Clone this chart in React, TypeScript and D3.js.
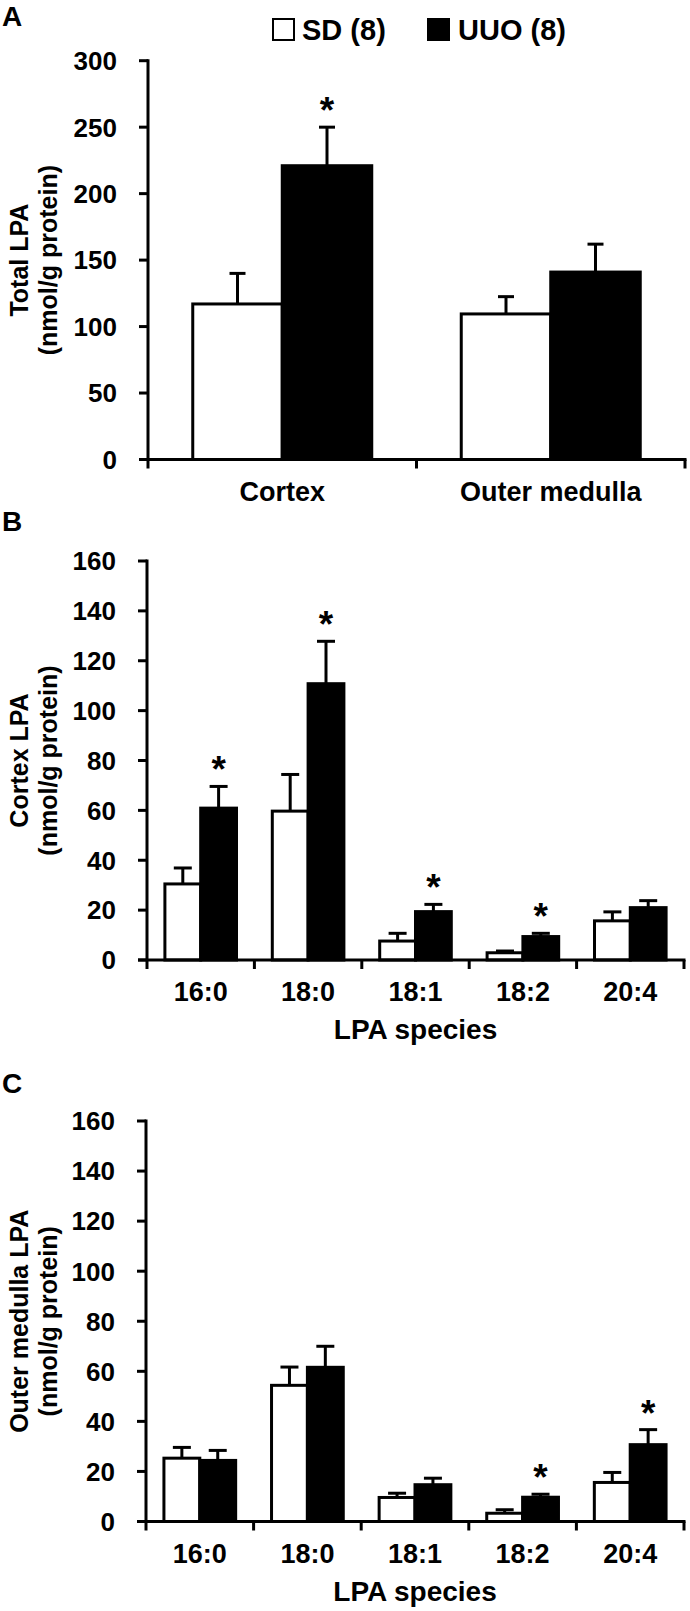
import React from "react";
import * as d3 from "d3";

// ---------- data ----------
const regions = ["Cortex", "Outer medulla"];
const seriesNames = ["SD (8)", "UUO (8)"];
const totalSD = [117, 109.5];
const totalSDErr = [23, 13];
const totalUUO = [221, 141];
const totalUUOErr = [29, 21];
const totalUUOSig = [true, false];
const totalTicks = [0, 50, 100, 150, 200, 250, 300];

const species = ["16:0", "18:0", "18:1", "18:2", "20:4"];
const cortexSD = [30.5, 59.7, 7.6, 2.9, 15.7];
const cortexSDErr = [6.4, 14.7, 3.1, 0.7, 3.6];
const cortexUUO = [60.9, 110.8, 19.4, 9.4, 21.0];
const cortexUUOErr = [8.7, 17.0, 2.9, 1.3, 2.8];
const cortexUUOSig = [true, true, true, true, false];

const medullaSD = [25.3, 54.4, 9.6, 3.3, 15.6];
const medullaSDErr = [4.3, 7.3, 1.7, 1.4, 4.0];
const medullaUUO = [24.4, 61.6, 14.7, 9.7, 30.7];
const medullaUUOErr = [4.0, 8.4, 2.6, 1.2, 6.0];
const medullaUUOSig = [false, false, false, true, true];
const speciesTicks = [0, 20, 40, 60, 80, 100, 120, 140, 160];

const FONT = "'Liberation Sans', Arial, sans-serif";

type PanelProps = {
  letter: string;
  letterY: number;
  cats: string[];
  sd: number[];
  sdErr: number[];
  uuo: number[];
  uuoErr: number[];
  sig: boolean[];
  ticks: number[];
  yMax: number;
  yTop: number;
  yBottom: number;
  xLeft: number;
  xRight: number;
  title1: string;
  title2: string;
  xTitle?: string;
  capW: number;
};

function Panel(p: PanelProps) {
  const x0 = d3.scaleBand<string>().domain(p.cats).range([p.xLeft, p.xRight]).paddingInner(0).paddingOuter(0);
  const x1 = d3.scaleBand<string>().domain(seriesNames).range([0, x0.bandwidth()]).paddingInner(0).paddingOuter(0.5);
  const y = d3.scaleLinear().domain([0, p.yMax]).range([p.yBottom, p.yTop]);
  const bw = x1.bandwidth();
  const midY = (p.yTop + p.yBottom) / 2;
  const boundaries = p.cats.map((c) => x0(c)!).concat([p.xRight]);
  const fontTick = 26;

  const bars: any[] = [];
  p.cats.forEach((c, i) => {
    const vals = [p.sd[i], p.uuo[i]];
    const errs = [p.sdErr[i], p.uuoErr[i]];
    seriesNames.forEach((s, j) => {
      const bx = x0(c)! + x1(s)!;
      const cx = bx + bw / 2;
      const top = y(vals[j]);
      const et = y(vals[j] + errs[j]);
      bars.push(
        <g key={c + s}>
          <line x1={cx} x2={cx} y1={top} y2={et} stroke="#000" strokeWidth={3} />
          <line x1={cx - p.capW / 2} x2={cx + p.capW / 2} y1={et} y2={et} stroke="#000" strokeWidth={3} />
          <rect
            x={bx}
            y={top}
            width={bw}
            height={y(0) - top}
            fill={j === 0 ? "#fff" : "#000"}
            stroke="#000"
            strokeWidth={3}
          />
          {j === 1 && p.sig[i] ? (
            <text x={cx} y={et - 4} textAnchor="middle" fontSize={37} fontWeight="bold" fontFamily={FONT}>
              *
            </text>
          ) : null}
        </g>
      );
    });
  });

  return (
    <g>
      <text x={2} y={p.letterY} fontSize={28} fontWeight="bold" fontFamily={FONT}>
        {p.letter}
      </text>
      <text
        transform={`translate(${28},${midY}) rotate(-90)`}
        textAnchor="middle"
        fontSize={25}
        fontWeight="bold"
        fontFamily={FONT}
      >
        {p.title1}
      </text>
      <text
        transform={`translate(${57},${midY}) rotate(-90)`}
        textAnchor="middle"
        fontSize={25}
        fontWeight="bold"
        fontFamily={FONT}
      >
        {p.title2}
      </text>
      {bars}
      {/* y axis */}
      <line x1={p.xLeft} x2={p.xLeft} y1={p.yTop - 1.5} y2={p.yBottom} stroke="#000" strokeWidth={3} />
      {p.ticks.map((t) => (
        <g key={t}>
          <line x1={p.xLeft - 9} x2={p.xLeft} y1={y(t)} y2={y(t)} stroke="#000" strokeWidth={3} />
          <text
            x={p.xLeft - 31}
            y={y(t)}
            dy="0.36em"
            textAnchor="end"
            fontSize={fontTick}
            fontWeight="bold"
            fontFamily={FONT}
          >
            {t}
          </text>
        </g>
      ))}
      {/* x axis */}
      <line x1={p.xLeft - 9} x2={p.xRight + 1.5} y1={y(0)} y2={y(0)} stroke="#000" strokeWidth={3} />
      {boundaries.map((b, i) => (
        <line key={i} x1={b} x2={b} y1={y(0)} y2={y(0) + 9} stroke="#000" strokeWidth={3} />
      ))}
      {p.cats.map((c) => (
        <text
          key={c}
          x={x0(c)! + x0.bandwidth() / 2}
          y={y(0) + 41}
          textAnchor="middle"
          fontSize={27}
          fontWeight="bold"
          fontFamily={FONT}
        >
          {c}
        </text>
      ))}
      {p.xTitle ? (
        <text
          x={(p.xLeft + p.xRight) / 2}
          y={y(0) + 79}
          textAnchor="middle"
          fontSize={28}
          fontWeight="bold"
          fontFamily={FONT}
        >
          {p.xTitle}
        </text>
      ) : null}
    </g>
  );
}

export default function App() {
  return (
    <div style={{ position: "absolute", left: 0, top: 0 }}>
      <svg width={690} height={1611} style={{ display: "block", background: "#fff" }}>
        <rect width={690} height={1611} fill="#fff" />
        {/* legend */}
        <rect x={273} y={19} width={21} height={21} fill="#fff" stroke="#000" strokeWidth={2} />
        <text x={302} y={40} fontSize={29} fontWeight="bold" fontFamily={FONT}>
          {seriesNames[0]}
        </text>
        <rect x={428} y={19} width={21} height={21} fill="#000" stroke="#000" strokeWidth={2} />
        <text x={458} y={40} fontSize={29} fontWeight="bold" fontFamily={FONT}>
          {seriesNames[1]}
        </text>
        <Panel
          letter="A"
          letterY={26}
          cats={regions}
          sd={totalSD}
          sdErr={totalSDErr}
          uuo={totalUUO}
          uuoErr={totalUUOErr}
          sig={totalUUOSig}
          ticks={totalTicks}
          yMax={300}
          yTop={60.7}
          yBottom={459.5}
          xLeft={148}
          xRight={685}
          title1="Total LPA"
          title2="(nmol/g protein)"
          capW={16}
        />
        <Panel
          letter="B"
          letterY={531}
          cats={species}
          sd={cortexSD}
          sdErr={cortexSDErr}
          uuo={cortexUUO}
          uuoErr={cortexUUOErr}
          sig={cortexUUOSig}
          ticks={speciesTicks}
          yMax={160}
          yTop={561}
          yBottom={960}
          xLeft={147}
          xRight={684}
          title1="Cortex LPA"
          title2="(nmol/g protein)"
          xTitle="LPA species"
          capW={18}
        />
        <Panel
          letter="C"
          letterY={1093}
          cats={species}
          sd={medullaSD}
          sdErr={medullaSDErr}
          uuo={medullaUUO}
          uuoErr={medullaUUOErr}
          sig={medullaUUOSig}
          ticks={speciesTicks}
          yMax={160}
          yTop={1121}
          yBottom={1521.5}
          xLeft={146}
          xRight={684}
          title1="Outer medulla LPA"
          title2="(nmol/g protein)"
          xTitle="LPA species"
          capW={18}
        />
      </svg>
    </div>
  );
}
